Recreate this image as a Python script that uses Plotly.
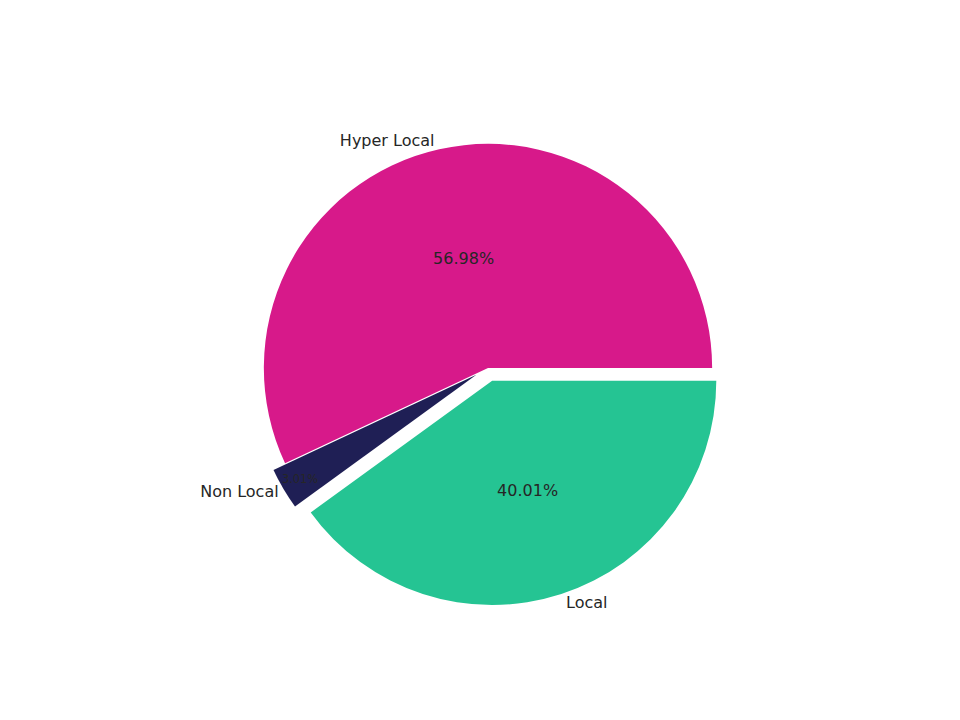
import plotly.graph_objects as go

labels = ["Local", "Hyper Local", "Non Local"]
values = [40.01, 56.98, 3.01]
colors = ["#25C493", "#D7198A", "#1F1F55"]
pulls = [0.06, 0.0, 0.06]

common = dict(
    labels=labels, values=values, sort=False, direction="counterclockwise",
    rotation=90, pull=pulls, domain=dict(x=[0.2, 0.8], y=[0.17, 0.83]),
    hoverinfo="label+percent",
)

fig = go.Figure()
fig.add_trace(go.Pie(
    **common,
    marker=dict(colors=colors, line=dict(color="white", width=0)),
    texttemplate="%{percent:.2%}", textposition="inside",
    insidetextorientation="horizontal",
    textfont=dict(color="#262626", size=16, family="DejaVu Sans"),
    showlegend=False,
))
fig.add_trace(go.Pie(
    **common,
    marker=dict(colors=["rgba(0,0,0,0)"] * 3),
    textinfo="label", textposition="outside",
    textfont=dict(color="#262626", size=16, family="DejaVu Sans"),
    showlegend=False,
))
fig.update_layout(
    width=960, height=720, margin=dict(l=0, r=0, t=0, b=0),
    paper_bgcolor="white", plot_bgcolor="white",
)
fig.write_html("out.html")
